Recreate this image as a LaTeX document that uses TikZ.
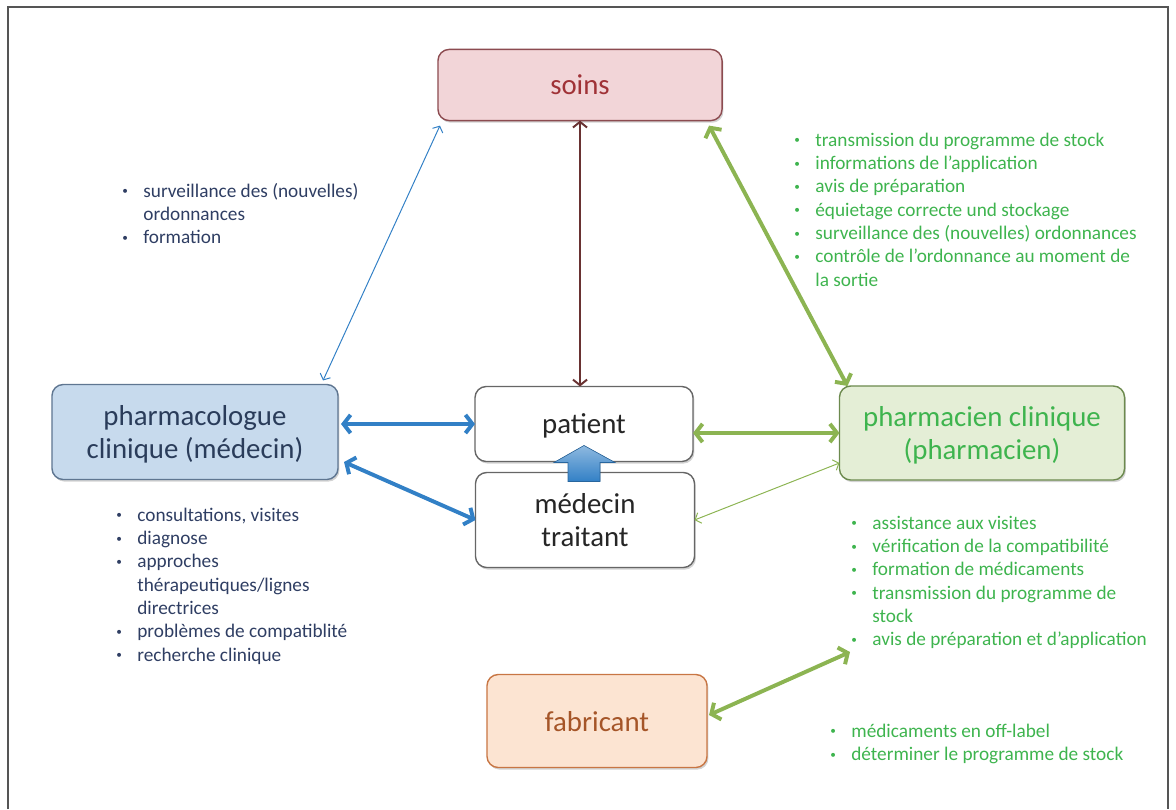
\documentclass[tikz,border=0pt]{standalone}
\usepackage{fontspec}
\setmainfont{Carlito}
\usetikzlibrary{arrows.meta,calc,shadows}

\definecolor{rahmengrau}{RGB}{85,85,85}
\definecolor{soinsfill}{RGB}{242,213,216}
\definecolor{soinsrand}{RGB}{140,75,80}
\definecolor{soinstext}{RGB}{160,50,55}
\definecolor{blaufill}{RGB}{199,218,237}
\definecolor{blaurand}{RGB}{95,118,145}
\definecolor{blautext}{RGB}{42,60,90}
\definecolor{gruenfill}{RGB}{228,238,214}
\definecolor{gruenrand}{RGB}{108,138,78}
\definecolor{gruentext}{RGB}{62,180,78}
\definecolor{orangefill}{RGB}{252,228,210}
\definecolor{orangerand}{RGB}{200,118,68}
\definecolor{orangetext}{RGB}{165,85,40}
\definecolor{pfeilblau}{RGB}{50,128,198}
\definecolor{pfeilgruen}{RGB}{140,180,82}
\definecolor{pfeilbraun}{RGB}{105,50,50}
\definecolor{listeblau}{RGB}{47,62,99}

\newcommand{\puce}{\makebox[15pt][l]{\raisebox{0.25ex}{\fontsize{8}{8}\selectfont\textbullet}}}
\newcommand{\listefont}{\fontsize{13.7}{16.6}\selectfont}

\begin{document}
\begin{tikzpicture}[x=0.025cm, y=-0.025cm,
  kasten/.style={rectangle, rounded corners=8pt, draw, line width=1pt, outer sep=0pt,
    align=center, font=\fontsize{20.5}{24}\selectfont, text depth=0pt,
    drop shadow={shadow xshift=1pt, shadow yshift=-1.5pt, opacity=.35}},
  liste/.style={anchor=base west, inner sep=0pt, font=\listefont},
  dick/.style={line width=2.8pt,
    {Straight Barb[length=5pt,width=13pt]}-{Straight Barb[length=5pt,width=13pt]}},
  duenn/.style={line width=0.7pt,
    {Straight Barb[length=3.5pt,width=8pt]}-{Straight Barb[length=3.5pt,width=8pt]}},
  mittel/.style={line width=1.4pt,
    {Straight Barb[length=4pt,width=10pt]}-{Straight Barb[length=4pt,width=10pt]}}]

\useasboundingbox (0,0) rectangle (1176,809);

% Rahmen
\draw[rahmengrau, line width=1.4pt] (8,809) -- (8,7) -- (1168,7) -- (1168,809);

% Kaesten
\node[kasten, draw=soinsrand, fill=soinsfill, text=soinstext,
  minimum width=7.1cm, minimum height=1.78cm] (soins) at (580,85) {soins};
\node[kasten, draw=blaurand, fill=blaufill, text=blautext,
  minimum width=7.15cm, minimum height=2.375cm] (pharmaco) at (195,432)
  {pharmacologue\\clinique (médecin)};
\node[kasten, draw=black!60, fill=white, text=black!85,
  minimum width=5.45cm, minimum height=1.875cm] (patient) at (584,424) {patient};
\node[kasten, draw=black!60, fill=white, text=black!85,
  minimum width=5.475cm, minimum height=2.375cm] (medecin) at (585,520)
  {médecin\\traitant};
\node[kasten, draw=gruenrand, fill=gruenfill, text=gruentext,
  minimum width=7.125cm, minimum height=2.35cm] (pharmacien) at (982,433)
  {pharmacien clinique\\(pharmacien)};
\node[kasten, draw=orangerand, fill=orangefill, text=orangetext,
  minimum width=5.5cm, minimum height=2.325cm] (fabricant) at (597,721) {fabricant};

% Blockpfeil medecin -> patient
\filldraw[draw=pfeilblau!80!black, line width=0.4pt,
  top color=pfeilblau!55!white, bottom color=pfeilblau]
  ($(medecin.north)+(-17,9)$) -- ($(medecin.north)+(-17,-10)$)
  -- ($(medecin.north)+(-31,-10)$) -- ($(medecin.north)+(-1,-27)$)
  -- ($(medecin.north)+(30,-10)$) -- ($(medecin.north)+(15,-10)$)
  -- ($(medecin.north)+(15,9)$) -- cycle;

% Verbindungen
\draw[mittel, pfeilbraun] (soins.south) -- (soins.south |- patient.north);
\draw[duenn, pfeilblau] ($(soins.south west)+(2,5)$) -- ($(pharmaco.north east)+(-15,-4)$);
\draw[dick, pfeilgruen] ($(soins.south east)+(-13,5)$) -- ($(pharmacien.north west)+(8,0)$);
\draw[dick, pfeilblau] ($(pharmaco.east |- patient.west)+(3,0)$) -- (patient.west);
\draw[dick, pfeilblau] ($(pharmaco.east)+(6,30)$) -- (medecin.west);
\draw[dick, pfeilgruen] (patient.east |- pharmacien.west) -- (pharmacien.west);
\draw[duenn, pfeilgruen] (medecin.east) -- ($(pharmacien.west)+(0,30)$);

% fabricant
\coordinate (fabziel) at (850,652);
\draw[dick, pfeilgruen] ($(fabricant.east)+(2,-6)$) -- (fabziel);

% Listen
\node[liste, text=listeblau] (lsoinsg) at (122,197) {\begin{tabular}[t]{@{}l@{}l@{}}
  \puce & surveillance des (nouvelles)\\
        & ordonnances\\
  \puce & formation
\end{tabular}};

\node[liste, text=gruentext] (lsoinsd) at (794,146) {\begin{tabular}[t]{@{}l@{}l@{}}
  \puce & transmission du programme de stock\\
  \puce & informations de l'application\\
  \puce & avis de préparation\\
  \puce & équietage correcte und stockage\\
  \puce & surveillance des (nouvelles) ordonnances\\
  \puce & contrôle de l'ordonnance au moment de\\
        & la sortie
\end{tabular}};

\node[liste, text=listeblau] (lpharmaco) at (116,521) {\begin{tabular}[t]{@{}l@{}l@{}}
  \puce & consultations, visites\\
  \puce & diagnose\\
  \puce & approches\\
        & thérapeutiques/lignes\\
        & directrices\\
  \puce & problèmes de compatiblité\\
  \puce & recherche clinique
\end{tabular}};

\node[liste, text=gruentext] (lpharmacien) at (851,529) {\begin{tabular}[t]{@{}l@{}l@{}}
  \puce & assistance aux visites\\
  \puce & vérification de la compatibilité\\
  \puce & formation de médicaments\\
  \puce & transmission du programme de\\
        & stock\\
  \puce & avis de préparation et d'application
\end{tabular}};

\node[liste, text=gruentext] (lfabricant) at (830,737) {\begin{tabular}[t]{@{}l@{}l@{}}
  \puce & médicaments en off-label\\
  \puce & déterminer le programme de stock
\end{tabular}};

\end{tikzpicture}
\end{document}
